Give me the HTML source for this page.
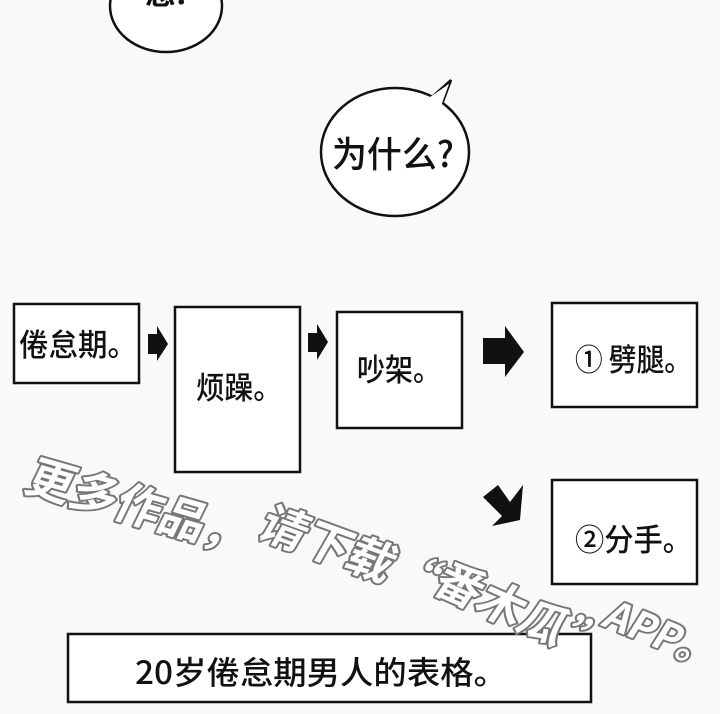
<!DOCTYPE html>
<html><head><meta charset="utf-8"><style>
html,body{margin:0;padding:0;background:#f9f9f8;}
svg{display:block}
text{font-family:"Noto Sans CJK SC","WenQuanYi Zen Hei",sans-serif;}
</style></head><body>
<svg width="720" height="714" viewBox="0 0 720 714" xmlns="http://www.w3.org/2000/svg">
<rect width="720" height="714" fill="#f9f9f8"/>
<ellipse cx="166" cy="6" rx="56" ry="46" fill="#fff" stroke="#111" stroke-width="2.5"/>
<text x="145" y="4" font-size="28" font-weight="bold" fill="#111" textLength="42" lengthAdjust="spacingAndGlyphs">您!</text>
<path d="M433 96 L451 80 L442 104" fill="#fff" stroke="#111" stroke-width="2.5"/>
<ellipse cx="395" cy="152" rx="74" ry="64" fill="#fff" stroke="#111" stroke-width="2.5"/>
<path d="M430 97 L449 84 L441 106 Z" fill="#fff"/>
<text x="332" y="167" font-size="36" font-weight="500" fill="#111" textLength="122" lengthAdjust="spacingAndGlyphs">为什么?</text>
<g fill="#fff" stroke="#111" stroke-width="2.5">
<rect x="14" y="304" width="125" height="79"/>
<rect x="175" y="307" width="125" height="165"/>
<rect x="337" y="312" width="125" height="116"/>
<rect x="552" y="303" width="145" height="104"/>
<rect x="552" y="480" width="145" height="104"/>
<rect x="68" y="634" width="523" height="68"/>
</g>
<g fill="#111" font-size="31" font-weight="500">
<text x="19" y="356" textLength="118" lengthAdjust="spacingAndGlyphs">倦怠期。</text>
<text x="196" y="399" textLength="86" lengthAdjust="spacingAndGlyphs">烦躁。</text>
<text x="357" y="381" textLength="84" lengthAdjust="spacingAndGlyphs">吵架。</text>
<text x="575" y="371" textLength="117" lengthAdjust="spacingAndGlyphs">① 劈腿。</text>
<text x="575" y="551" textLength="117" lengthAdjust="spacingAndGlyphs">②分手。</text>
<text x="135" y="684" font-size="32" textLength="372" lengthAdjust="spacingAndGlyphs">20岁倦怠期男人的表格。</text>
</g>
<g fill="#111">
<path d="M148 334 H157 V326 L168 344 L157 361 V354 H148 Z"/>
<path d="M308 333 H317 V324 L328 342 L317 360 V352 H308 Z"/>
<path d="M483 338 H505 V326 L524 352 L505 377 V364 H483 Z"/>
<path d="M483 497 L498 485 L510 502 L523 485 L520 520 L492 526 L502 516 Z"/>
</g>
<g font-size="46" fill="#fff" stroke="#777" stroke-width="4" font-weight="bold" paint-order="stroke" stroke-linejoin="round">
<text transform="translate(22,490) rotate(16) skewX(-10)">更多作品，</text>
<text transform="translate(255,535) rotate(20) skewX(-10)">请下载“</text>
<text transform="translate(430,590) rotate(24) skewX(-10)">番木瓜”</text>
<text transform="translate(600,625) rotate(22) skewX(-10)" font-size="40">APP。</text>
</g>
</svg>
</body></html>
